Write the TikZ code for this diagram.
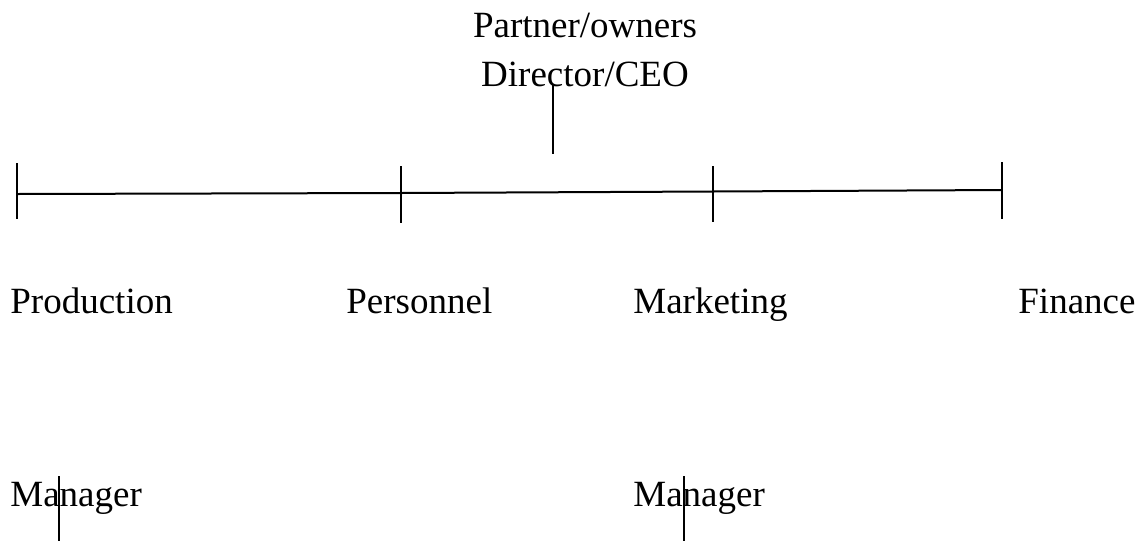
\documentclass[tikz,border=0pt]{standalone}
\usepackage{fontspec}
\setmainfont{Liberation Serif}
\begin{document}
\begin{tikzpicture}[x=0.5pt,y=-0.5pt,
  lbl/.style={anchor=base west,inner sep=0pt,font=\fontsize{18.5}{24}\selectfont},
  rule/.style={line width=1pt}]
\useasboundingbox (0,0) rectangle (1143,541);
\node[lbl,anchor=base] (owners) at (585,37.5) {Partner/owners};
\node[lbl,anchor=base] (ceo) at (585,86) {Director/CEO};
\coordinate (ceotop) at (553,85);
\coordinate (ceobot) at (553,154);
\coordinate (b1) at (17,194);
\coordinate (b2) at (401,193);
\coordinate (b3) at (713,191.5);
\coordinate (b4) at (1002,190);
\draw[rule] (ceotop) -- (ceobot);
\draw[rule] (b1) -- (b2) -- (b3) -- (b4);
\draw[rule] (17,163) -- (17,219);
\draw[rule] (401,166) -- (401,223);
\draw[rule] (713,166) -- (713,222);
\draw[rule] (1002,162) -- (1002,219);
\node[lbl] (prod) at (10,313) {Production};
\node[lbl] (pers) at (346,313) {Personnel};
\node[lbl] (mark) at (633,313) {Marketing};
\node[lbl] (fin) at (1018,313) {Finance};
\node[lbl] (mgr1) at (10,506) {Manager};
\node[lbl] (mgr2) at (633,506) {Manager};
\coordinate (m1top) at (59,476);
\coordinate (m1bot) at (59,541);
\coordinate (m2top) at (684,476);
\coordinate (m2bot) at (684,541);
\draw[rule] (m1top) -- (m1bot);
\draw[rule] (m2top) -- (m2bot);
\end{tikzpicture}
\end{document}
